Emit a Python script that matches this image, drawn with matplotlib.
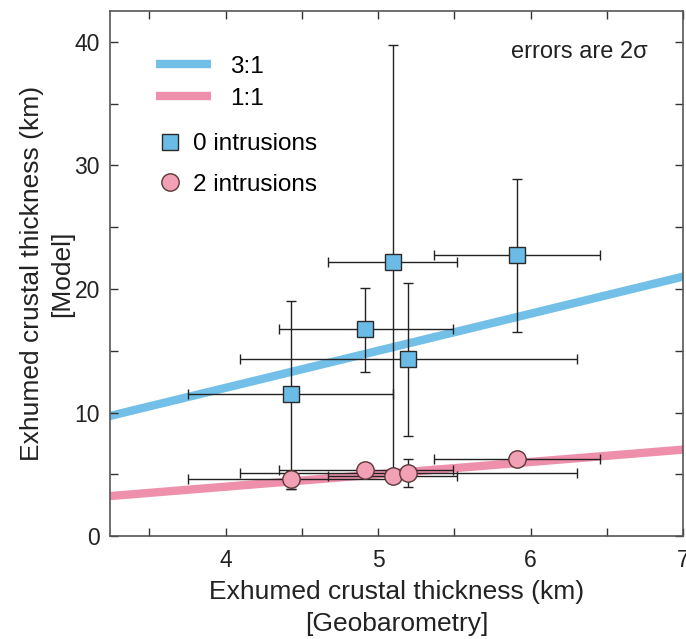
import matplotlib
matplotlib.use("Agg")
import matplotlib.pyplot as plt
import numpy as np
from matplotlib.lines import Line2D

plt.rcParams['font.family'] = ['Liberation Sans', 'DejaVu Sans']

# Geobarometry thickness (km) with 2-sigma bounds
geo = [4.43, 4.915, 5.097, 5.198, 5.909]
geo_lo = [3.755, 4.348, 4.672, 4.093, 5.369]
geo_hi = [5.097, 5.49, 5.519, 6.302, 6.454]

# Model, 0 intrusions
m0 = [11.5, 16.75, 22.15, 14.3, 22.75]
m0_lo = [3.85, 13.3, 5.0, 8.1, 16.5]
m0_hi = [19.05, 20.1, 39.7, 20.5, 28.9]

# Model, 2 intrusions
m2 = [4.6, 5.33, 4.9, 5.1, 6.2]
m2_lo = [3.85, 5.0, 4.6, 3.95, 5.9]
m2_hi = [5.3, 5.65, 5.2, 6.25, 6.5]

line_x = [3.0, 7.5]
ratios = [3, 1]
ratio_labels = ['3:1', '1:1']
line_colors = ['#72BFE8', '#EE8FAB']

fig = plt.figure(figsize=(6.86, 6.39), dpi=100)
ax = fig.add_axes([0.160, 0.161, 0.836, 0.822])

for r, c in zip(ratios, line_colors):
    ax.plot(line_x, [r * v for v in line_x], color=c, lw=6, solid_capstyle='butt', zorder=1)

geo_a = np.array(geo)
xerr = [geo_a - np.array(geo_lo), np.array(geo_hi) - geo_a]

m0a = np.array(m0)
ax.errorbar(geo, m0, xerr=xerr, yerr=[m0a - np.array(m0_lo), np.array(m0_hi) - m0a],
            fmt='s', ms=11.5, mfc='#6BBBE7', mec='#2a2a2a', mew=1.0,
            ecolor='#222222', elinewidth=1.0, capsize=3.5, capthick=1.0, zorder=3)
m2a = np.array(m2)
ax.errorbar(geo, m2, xerr=xerr, yerr=[m2a - np.array(m2_lo), np.array(m2_hi) - m2a],
            fmt='o', ms=12.5, mfc='#F2A1B5', mec='#5a3838', mew=1.0,
            ecolor='#222222', elinewidth=1.0, capsize=3.5, capthick=1.0, zorder=3)

ax.set_xlim(3.24, 7.0)
ax.set_ylim(0, 42.5)
ax.set_xticks([4, 5, 6, 7])
ax.set_xticks(np.arange(3.5, 7.0, 0.5), minor=True)
ax.set_yticks([0, 10, 20, 30, 40])
ax.set_yticks(np.arange(5, 42, 10), minor=True)
ax.tick_params(which='both', direction='in', top=True, right=True, length=6,
               width=1, color='#333333', labelsize=16.5, labelcolor='#222222')
ax.tick_params(axis='y', pad=7)
ax.tick_params(axis='x', pad=9)
for s in ax.spines.values():
    s.set_color('#555555')
    s.set_linewidth(1.2)

ax.set_xlabel('Exhumed crustal thickness (km)\n[Geobarometry]', fontsize=19,
              color='#222222', linespacing=1.4, labelpad=6)
ax.set_ylabel('Exhumed crustal thickness (km)\n[Model]', fontsize=19,
              color='#222222', linespacing=1.35, labelpad=0)

fig.text(648 / 686, 1 - 52 / 639, 'errors are 2σ', ha='right', va='center',
         fontsize=17, color='#222222')

h1 = [Line2D([], [], color=c, lw=6, solid_capstyle='butt') for c in line_colors]
leg1 = ax.legend(h1, ratio_labels, loc='upper left', bbox_to_anchor=(0.081, 0.915),
                 frameon=False, fontsize=17.5, handlelength=2.27, handletextpad=0.78,
                 labelspacing=0.42, borderaxespad=0, borderpad=0)
ax.add_artist(leg1)
h2 = [Line2D([], [], ls='none', marker='s', ms=11.5, mfc='#6BBBE7', mec='#2a2a2a'),
      Line2D([], [], ls='none', marker='o', ms=12.5, mfc='#F2A1B5', mec='#5a3838')]
ax.legend(h2, ['0 intrusions', '2 intrusions'], loc='upper left',
          bbox_to_anchor=(0.084, 0.767), frameon=False, fontsize=17.5,
          handlelength=1.0, handletextpad=0.45, labelspacing=0.75,
          borderaxespad=0, borderpad=0)

fig.savefig('out.png', dpi=100)
